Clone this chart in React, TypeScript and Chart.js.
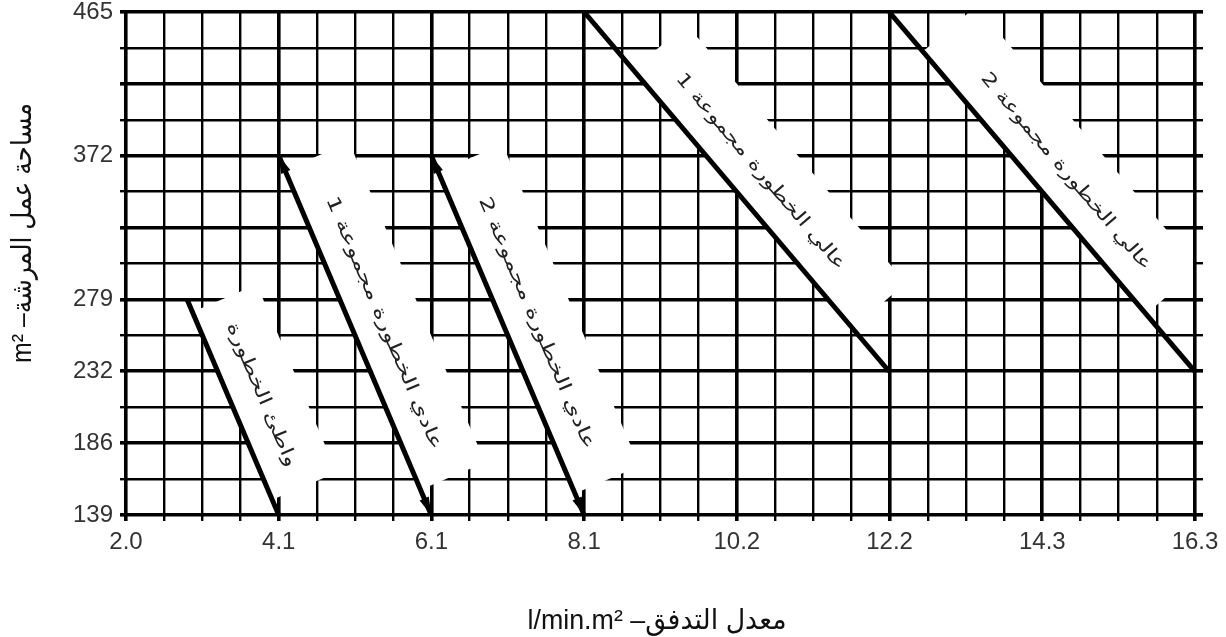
import React, { useEffect, useRef } from "react";
import { Chart, registerables } from "chart.js";

Chart.register(...registerables);

// ---------- data ----------
// X axis: design density (l/min.m²), major ticks every 0.05 gpm/ft²
const xTickLabels = ["2.0", "4.1", "6.1", "8.1", "10.2", "12.2", "14.3", "16.3"];
const xAxisMax = 16.3;
const xMinorPerMajor = 4;
// Y axis: area of sprinkler operation (m²)
const yTickLabels = ["139", "186", "232", "279", "372", "465"];
const yAxisMin = 139;
const yAxisMax = 465;
const yGridIntervals = 14;

// Hazard curves (density l/min.m², area m²)
const curveNames = [
  "واطئ الخطورة",
  "عادي الخطورة مجموعة 1",
  "عادي الخطورة مجموعة 2",
  "عالي الخطورة مجموعة 1",
  "عالي الخطورة مجموعة 2",
];
const curveDensityTop = [2.85, 4.075, 6.11, 8.15, 12.22];
const curveAreaTop = [279, 372, 372, 465, 465];
const curveDensityBottom = [4.075, 6.11, 8.15, 12.22, 16.3];
const curveAreaBottom = [139, 139, 139, 232, 232];

const xTitle = "معدل التدفق– l/min.m²";
const yTitle = "مساحة عمل المرشة– m²";

// ---------- styling ----------
const bandStart = [0.06, 0.04, 0.045, 0.16, 0.11];
const bandEnd = [0.93, 0.93, 0.94, 0.88, 0.84];
const labelLength = [155, 273, 272, 252, 253];
const BAND_W = 70;
const LABEL_OFFSET = 31;
const arrowCurves = [1, 2];

const xMajorStep = xAxisMax / xTickLabels.length;
const xMin = xMajorStep;
const xMinorStep = xMajorStep / xMinorPerMajor;
const yStep = (yAxisMax - yAxisMin) / yGridIntervals;

function xTicks() {
  const n = (xTickLabels.length - 1) * xMinorPerMajor;
  const t: { value: number }[] = [];
  for (let k = 0; k <= n; k++) t.push({ value: xMin + k * xMinorStep });
  return t;
}
function yTicks() {
  const t: { value: number }[] = [];
  for (let k = 0; k <= yGridIntervals; k++) t.push({ value: yAxisMin + k * yStep });
  return t;
}
function yLabelFor(v: number) {
  const l = yTickLabels.find((s) => Math.abs(Number(s) - v) < yStep / 2.5);
  return l ?? "";
}

function curvePixels(chart: any, i: number) {
  const xs = chart.scales.x;
  const ys = chart.scales.y;
  return {
    x0: xs.getPixelForValue(curveDensityTop[i]),
    y0: ys.getPixelForValue(curveAreaTop[i]),
    x1: xs.getPixelForValue(curveDensityBottom[i]),
    y1: ys.getPixelForValue(curveAreaBottom[i]),
  };
}

function drawArrow(ctx: CanvasRenderingContext2D, x: number, y: number, ang: number) {
  ctx.save();
  ctx.translate(x, y);
  ctx.rotate(ang);
  ctx.beginPath();
  ctx.moveTo(0, 0);
  ctx.lineTo(-18, -5);
  ctx.lineTo(-18, 5);
  ctx.closePath();
  ctx.fill();
  ctx.restore();
}

function drawFittedText(
  ctx: CanvasRenderingContext2D,
  text: string,
  cx: number,
  cy: number,
  rot: number,
  width: number,
  font: string,
  color: string
) {
  ctx.save();
  ctx.translate(cx, cy);
  ctx.rotate(rot);
  ctx.font = font;
  (ctx as any).direction = "rtl";
  ctx.textAlign = "center";
  ctx.textBaseline = "middle";
  const w = ctx.measureText(text).width;
  ctx.scale(width / w, 1);
  ctx.fillStyle = color;
  ctx.fillText(text, 0, 0);
  ctx.restore();
}

const hazardPlugin = {
  id: "hazardLabels",
  beforeDatasetsDraw(chart: any) {
    const { ctx, chartArea: a } = chart;
    ctx.save();
    ctx.beginPath();
    ctx.rect(a.left + 2, a.top + 2, a.right - a.left - 4, a.bottom - a.top - 4);
    ctx.clip();
    curveNames.forEach((name, i) => {
      const p = curvePixels(chart, i);
      const len = Math.hypot(p.x1 - p.x0, p.y1 - p.y0);
      const ang = Math.atan2(p.y1 - p.y0, p.x1 - p.x0);
      ctx.save();
      ctx.translate(p.x0, p.y0);
      ctx.rotate(ang);
      ctx.fillStyle = "#ffffff";
      ctx.fillRect(len * bandStart[i], -BAND_W, len * (bandEnd[i] - bandStart[i]), BAND_W - 2);
      ctx.restore();
      const mx = p.x0 + (p.x1 - p.x0) * 0.5 + Math.sin(ang) * LABEL_OFFSET;
      const my = p.y0 + (p.y1 - p.y0) * 0.5 - Math.cos(ang) * LABEL_OFFSET;
      drawFittedText(ctx, name, mx, my, ang, labelLength[i], '18px "DejaVu Sans"', "#222");
    });
    ctx.restore();
  },
  afterDatasetsDraw(chart: any) {
    const { ctx } = chart;
    ctx.save();
    ctx.fillStyle = "#000";
    arrowCurves.forEach((i) => {
      const p = curvePixels(chart, i);
      const ang = Math.atan2(p.y1 - p.y0, p.x1 - p.x0);
      drawArrow(ctx, p.x1, p.y1, ang);
      drawArrow(ctx, p.x0, p.y0, ang + Math.PI);
    });
    ctx.restore();
  },
  afterDraw(chart: any) {
    const { ctx } = chart;
    const font = '28px "Liberation Sans", "DejaVu Sans", sans-serif';
    drawFittedText(ctx, xTitle, 657, 621, 0, 259, font, "#111");
    drawFittedText(ctx, yTitle, 23, 233, -Math.PI / 2, 260, font, "#111");
  },
};

const tickFont = { family: '"Liberation Sans", Arial, sans-serif', size: 24 };

export default function App() {
  const ref = useRef<HTMLCanvasElement | null>(null);
  useEffect(() => {
    if (!ref.current) return;
    const chart = new Chart(ref.current, {
      type: "scatter",
      data: {
        datasets: curveNames.map((name, i) => ({
          label: name,
          data: [
            { x: curveDensityTop[i], y: curveAreaTop[i] },
            { x: curveDensityBottom[i], y: curveAreaBottom[i] },
          ],
          showLine: true,
          borderColor: "#000",
          borderWidth: 5,
          pointRadius: 0,
          pointHoverRadius: 0,
        })),
      },
      options: {
        animation: false,
        responsive: false,
        devicePixelRatio: 1,
        layout: { padding: { top: 12, left: 0, right: 0, bottom: 0 } },
        plugins: { legend: { display: false }, tooltip: { enabled: false } },
        events: [],
        scales: {
          x: {
            type: "linear",
            min: xMin,
            max: xAxisMax,
            afterBuildTicks: (s: any) => {
              s.ticks = xTicks();
            },
            afterFit: (s: any) => {
              s.height = 122;
              s.paddingLeft = 0;
              s.paddingRight = 0;
            },
            ticks: {
              autoSkip: false,
              maxRotation: 0,
              minRotation: 0,
              padding: 7,
              color: "#333",
              font: tickFont,
              callback: (_v: any, i: number) =>
                i % xMinorPerMajor === 0 ? xTickLabels[i / xMinorPerMajor] : "",
            },
            grid: {
              color: "#000",
              lineWidth: (c: any) => (c.index % xMinorPerMajor === 0 ? 3.6 : 2.4),
              tickLength: 6,
            },
            border: { display: false },
          },
          y: {
            type: "linear",
            position: "left",
            min: yAxisMin,
            max: yAxisMax,
            afterBuildTicks: (s: any) => {
              s.ticks = yTicks();
            },
            afterFit: (s: any) => {
              s.width = 126;
              s.paddingTop = 0;
              s.paddingBottom = 0;
            },
            ticks: {
              autoSkip: false,
              padding: 7,
              color: "#333",
              font: tickFont,
              callback: (v: any) => yLabelFor(Number(v)),
            },
            grid: {
              color: "#000",
              lineWidth: (c: any) => (c.index % 2 === 0 ? 3.6 : 2.4),
              tickLength: 6,
            },
            border: { display: false },
          },
          y2: {
            type: "linear",
            position: "right",
            min: yAxisMin,
            max: yAxisMax,
            afterBuildTicks: (s: any) => {
              s.ticks = yTicks();
            },
            afterFit: (s: any) => {
              s.width = 31;
              s.paddingTop = 0;
              s.paddingBottom = 0;
            },
            ticks: { display: false },
            grid: {
              color: "#000",
              drawOnChartArea: false,
              lineWidth: (c: any) => (c.index % 2 === 0 ? 3.6 : 2.4),
              tickLength: 8,
            },
            border: { display: false },
          },
        },
      } as any,
      plugins: [hazardPlugin],
    });
    return () => chart.destroy();
  }, []);
  return (
    <div style={{ position: "fixed", left: 0, top: 0, width: 1226, height: 637, background: "#fff" }}>
      <canvas ref={ref} width={1226} height={637} style={{ display: "block" }} />
    </div>
  );
}
